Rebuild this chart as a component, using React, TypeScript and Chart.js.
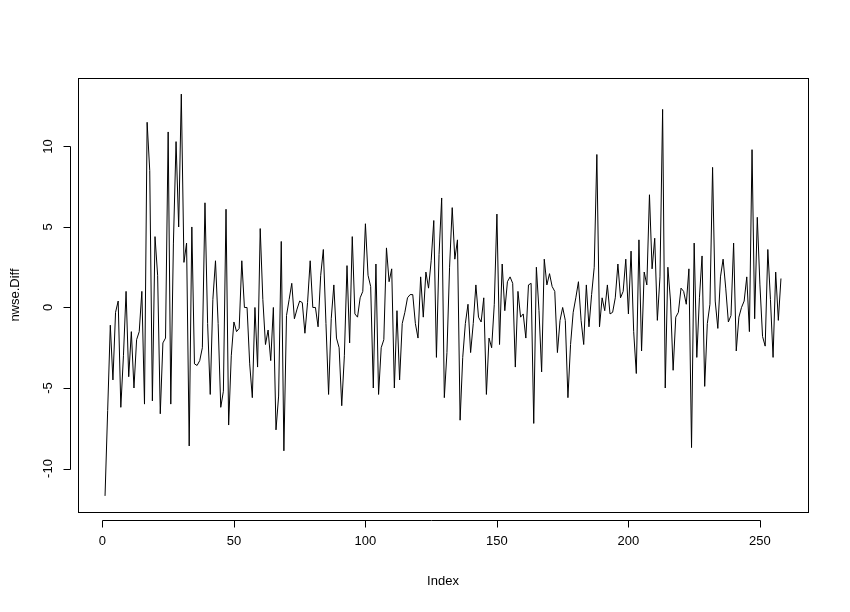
import React, { useEffect, useRef } from "react";
import { Chart, registerables } from "chart.js";

Chart.register(...registerables);

const seriesName = "nwse.Diff";
const xTitle = "Index";
const xTicks = [0, 50, 100, 150, 200, 250];
const yTicks = [-10, -5, 0, 5, 10];

const nwseDiff = [
  -11.7, -6.4, -1.1, -4.5, -0.3, 0.4, -6.2, -3.0, 1.0, -4.3,
  -1.5, -5.0, -2.0, -1.5, 1.0, -6.0, 11.5, 8.5, -5.8, 4.4,
  2.0, -6.6, -2.2, -1.9, 10.9, -6.0, 4.0, 10.3, 5.0, 13.25,
  2.8, 4.0, -8.6, 5.0, -3.5, -3.6, -3.3, -2.5, 6.5, -1.0,
  -5.4, 0.5, 2.9, -1.0, -6.2, -5.2, 6.1, -7.3, -3.0, -0.9,
  -1.5, -1.3, 2.9, 0.0, 0.0, -3.5, -5.6, 0.0, -3.7, 4.9,
  0.5, -2.3, -1.4, -3.3, 0.0, -7.6, -5.5, 4.1, -8.9, -0.5,
  0.5, 1.5, -0.7, -0.1, 0.4, 0.3, -1.6, 0.3, 2.9, 0.0,
  0.0, -1.2, 2.0, 3.6, -1.0, -5.4, -0.7, 1.4, -1.9, -2.5,
  -6.1, -3.0, 2.6, -2.2, 4.4, -0.4, -0.6, 0.6, 1.0, 5.2,
  2.0, 1.3, -5.0, 2.7, -5.4, -2.5, -2.0, 3.7, 1.6, 2.4,
  -5.0, -0.2, -4.5, -1.0, -0.3, 0.6, 0.8, 0.8, -1.0, -1.9,
  1.9, -0.6, 2.2, 1.2, 2.9, 5.4, -3.1, 3.3, 6.8, -5.6,
  -2.8, 2.5, 6.2, 3.0, 4.2, -7.0, -3.1, -1.0, 0.2, -2.8,
  -1.0, 1.4, -0.6, -0.9, 0.6, -5.4, -1.9, -2.5, 0.2, 5.8,
  -2.3, 2.7, -0.2, 1.6, 1.9, 1.5, -3.7, 1.0, -0.6, -0.4,
  -1.9, 1.4, 1.5, -7.2, 2.5, -0.2, -4.0, 3.0, 1.4, 2.1,
  1.3, 1.0, -2.8, -0.8, 0.0, -0.8, -5.6, -2.3, -0.3, 0.6,
  1.6, -0.8, -2.3, 1.4, -1.2, 0.8, 2.5, 9.5, -1.2, 0.6,
  -0.2, 1.4, -0.4, -0.3, 0.6, 2.7, 0.6, 1.0, 3.0, -0.4,
  3.5, -1.5, -4.1, 4.2, -2.7, 2.2, 1.4, 7.0, 2.4, 4.3,
  -0.8, 1.9, 12.3, -5.0, 2.5, 0.4, -3.9, -0.6, -0.3, 1.2,
  1.0, 0.2, 2.4, -8.7, 4.0, -3.1, 0.6, 3.2, -4.9, -1.0,
  0.2, 8.7, 0.4, -1.3, 1.9, 3.0, 1.2, -0.9, -0.5, 4.0,
  -2.7, -0.6, 0.0, 0.4, 1.9, -1.5, 9.8, -0.7, 5.6, 1.4,
  -1.8, -2.4, 3.6, 0.5, -3.1, 2.2, -0.8, 1.8,
];

const FONT = '13px "Liberation Sans", Arial, sans-serif';

const rAxesPlugin = {
  id: "rAxes",
  afterDraw(chart: any) {
    const { ctx, chartArea: a, scales } = chart;
    const xs = scales.x;
    const ys = scales.y;
    ctx.save();
    ctx.strokeStyle = "#000";
    ctx.lineWidth = 1;
    const L = Math.round(a.left) + 0.5;
    const R = Math.round(a.right) + 0.5;
    const T = Math.round(a.top) + 0.5;
    const B = Math.round(a.bottom) + 0.5;
    ctx.strokeRect(L, T, R - L, B - T);

    // x axis
    const axY = B + 8;
    const x0 = Math.round(xs.getPixelForValue(xTicks[0])) + 0.5;
    const x1 = Math.round(xs.getPixelForValue(xTicks[xTicks.length - 1])) + 0.5;
    ctx.beginPath();
    ctx.moveTo(x0, axY);
    ctx.lineTo(x1, axY);
    xTicks.forEach((t) => {
      const px = Math.round(xs.getPixelForValue(t)) + 0.5;
      ctx.moveTo(px, axY);
      ctx.lineTo(px, axY + 7);
    });
    ctx.stroke();
    ctx.fillStyle = "#000";
    ctx.font = FONT;
    ctx.textAlign = "center";
    ctx.textBaseline = "middle";
    xTicks.forEach((t) => {
      ctx.fillText(String(t), xs.getPixelForValue(t), axY + 21);
    });
    ctx.fillText(xTitle, (a.left + a.right) / 2, axY + 61);

    // y axis
    const axX = L - 8;
    const y0 = Math.round(ys.getPixelForValue(yTicks[0])) + 0.5;
    const y1 = Math.round(ys.getPixelForValue(yTicks[yTicks.length - 1])) + 0.5;
    ctx.beginPath();
    ctx.moveTo(axX, y0);
    ctx.lineTo(axX, y1);
    yTicks.forEach((t) => {
      const py = Math.round(ys.getPixelForValue(t)) + 0.5;
      ctx.moveTo(axX, py);
      ctx.lineTo(axX - 7, py);
    });
    ctx.stroke();
    yTicks.forEach((t) => {
      ctx.save();
      ctx.translate(axX - 22, ys.getPixelForValue(t));
      ctx.rotate(-Math.PI / 2);
      ctx.fillText(String(t), 0, 0);
      ctx.restore();
    });
    ctx.save();
    ctx.translate(axX - 55, (a.top + a.bottom) / 2);
    ctx.rotate(-Math.PI / 2);
    ctx.fillText(seriesName, 0, 0);
    ctx.restore();
    ctx.restore();
  },
};

export default function App() {
  const ref = useRef<HTMLCanvasElement | null>(null);
  useEffect(() => {
    if (!ref.current) return;
    const points = nwseDiff.map((v, i) => ({ x: i + 1, y: v }));
    const chart = new Chart(ref.current, {
      type: "line",
      data: {
        datasets: [
          {
            label: seriesName,
            data: points,
            borderColor: "#000",
            borderWidth: 1,
            pointRadius: 0,
            tension: 0,
            fill: false,
          },
        ],
      },
      options: {
        animation: false,
        responsive: false,
        events: [],
        layout: { padding: { left: 78, top: 78, right: 42, bottom: 100 } },
        plugins: { legend: { display: false }, tooltip: { enabled: false } },
        scales: {
          x: { type: "linear", display: false, min: -9.28, max: 268.28 },
          y: { type: "linear", display: false, min: -12.7, max: 14.25 },
        },
      },
      plugins: [rAxesPlugin],
    });
    return () => chart.destroy();
  }, []);
  return (
    <div style={{ position: "fixed", left: 0, top: 0, width: 850, height: 612, background: "#fff" }}>
      <canvas ref={ref} width={850} height={612} />
    </div>
  );
}
